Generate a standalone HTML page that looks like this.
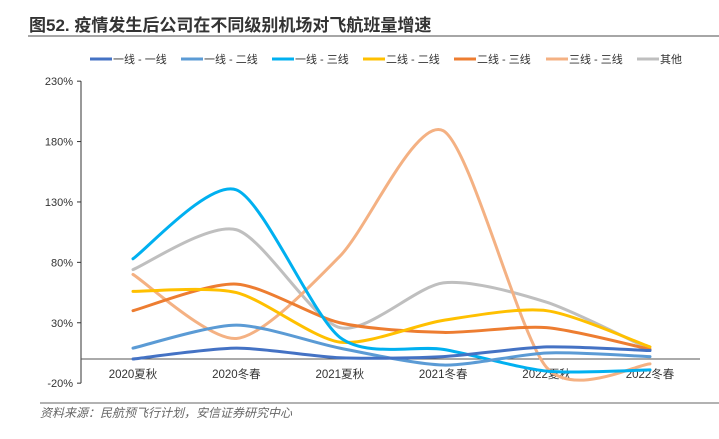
<!DOCTYPE html>
<html><head><meta charset="utf-8">
<style>
body{margin:0;background:#fff;width:719px;height:434px;overflow:hidden;font-family:"Liberation Sans","Noto Sans CJK SC",sans-serif;}
svg text{font-family:"Liberation Sans","Noto Sans CJK SC",sans-serif;}
</style></head>
<body>
<svg id="chart" width="719" height="434">
<text x="29" y="31" font-size="17" font-weight="bold" fill="#333">图52. 疫情发生后公司在不同级别机场对飞航班量增速</text>
<line x1="28" y1="36" x2="719" y2="36" stroke="#888" stroke-width="1.5"/>
<line x1="40" y1="403" x2="719" y2="403" stroke="#999" stroke-width="1.5"/>
<text x="40" y="417" font-size="12" font-style="italic" fill="#666">资料来源：民航预飞行计划，安信证券研究中心</text>
<g id="axes"></g><g id="series"></g><g id="legend"></g>
</svg>
<script>
const categories=["2020夏秋","2020冬春","2021夏秋","2021冬春","2022夏秋","2022冬春"];
const yTicks=[230,180,130,80,30,-20];
const seriesNames=["一线 - 一线","一线 - 二线","一线 - 三线","二线 - 二线","二线 - 三线","三线 - 三线","其他"];
const seriesColors=["#4472c4","#5b9bd5","#00b0f0","#ffc000","#ed7d31","#f4b183","#bfbfbf"];
const s1=[0,9,1,2,10,7];
const s2=[9,28,9,-5,5,2];
const s3=[83,140,18,8,-10,-9];
const s4=[56,55,14,32,40,10];
const s5=[40,62,30,22,26,8];
const s6=[70,17,85,189,-7,-4];
const s7=[74,107,26,63,47,8];
const seriesValues=[s1,s2,s3,s4,s5,s6,s7];

const NS="http://www.w3.org/2000/svg";
const X0=133,DX=103.4,Y0=359,K=1.208,T=0.13;
function xs(i){return X0+i*DX;}
function ys(v){return Y0-v*K;}
function mk(t,a,p){const e=document.createElementNS(NS,t);for(const k in a)e.setAttribute(k,a[k]);p.appendChild(e);return e;}
const axes=document.getElementById('axes');
const ya=mk('line',{x1:81,y1:ys(230),x2:81,y2:ys(-20),stroke:'#333','stroke-width':1},axes);


const xa=mk('line',{x1:81,y1:Y0,x2:700,y2:Y0,stroke:'#555','stroke-width':1},axes);


yTicks.forEach(v=>{
 const tk=mk('line',{x1:77,y1:ys(v),x2:81,y2:ys(v),stroke:'#333'},axes);
 
 
 const t=mk('text',{x:73,y:ys(v)+4,'font-size':11,'text-anchor':'end',fill:'#333'},axes);
 t.textContent=v+'%';
 
 
});
categories.forEach((c,i)=>{
 const t=mk('text',{x:xs(i),y:378,'font-size':11.5,'text-anchor':'middle',fill:'#333'},axes);
 t.textContent=c;
 
 
});
function path(vals){
 const p=vals.map((v,i)=>[xs(i),ys(v)]);
 let d='M'+p[0][0]+','+p[0][1];
 for(let i=0;i<p.length-1;i++){
  const p0=p[i-1]||p[i],p1=p[i],p2=p[i+1],p3=p[i+2]||p[i+1];
  const c1=[p1[0]+(p2[0]-p0[0])*T,p1[1]+(p2[1]-p0[1])*T];
  const c2=[p2[0]-(p3[0]-p1[0])*T,p2[1]-(p3[1]-p1[1])*T];
  d+=' C'+c1+' '+c2+' '+p2;
 }
 return d;
}
const sg=document.getElementById('series');
const order=[6,5,4,3,2,1,0];
order.forEach(k=>{
 const e=mk('path',{d:path(seriesValues[k]),fill:'none',stroke:seriesColors[k],'stroke-width':3,'stroke-linecap':'round'},sg);
 
 
});
const lg=document.getElementById('legend');
const lx=[90,181,272,363,454,546,637];
seriesNames.forEach((n,i)=>{
 const g=mk('g',{},lg);
 
 
 mk('line',{x1:lx[i],y1:59,x2:lx[i]+22,y2:59,stroke:seriesColors[i],'stroke-width':3},g);
 const t=mk('text',{x:lx[i]+23,y:63,'font-size':11,fill:'#333'},g);
 t.textContent=n;
});
</script>
</body></html>
